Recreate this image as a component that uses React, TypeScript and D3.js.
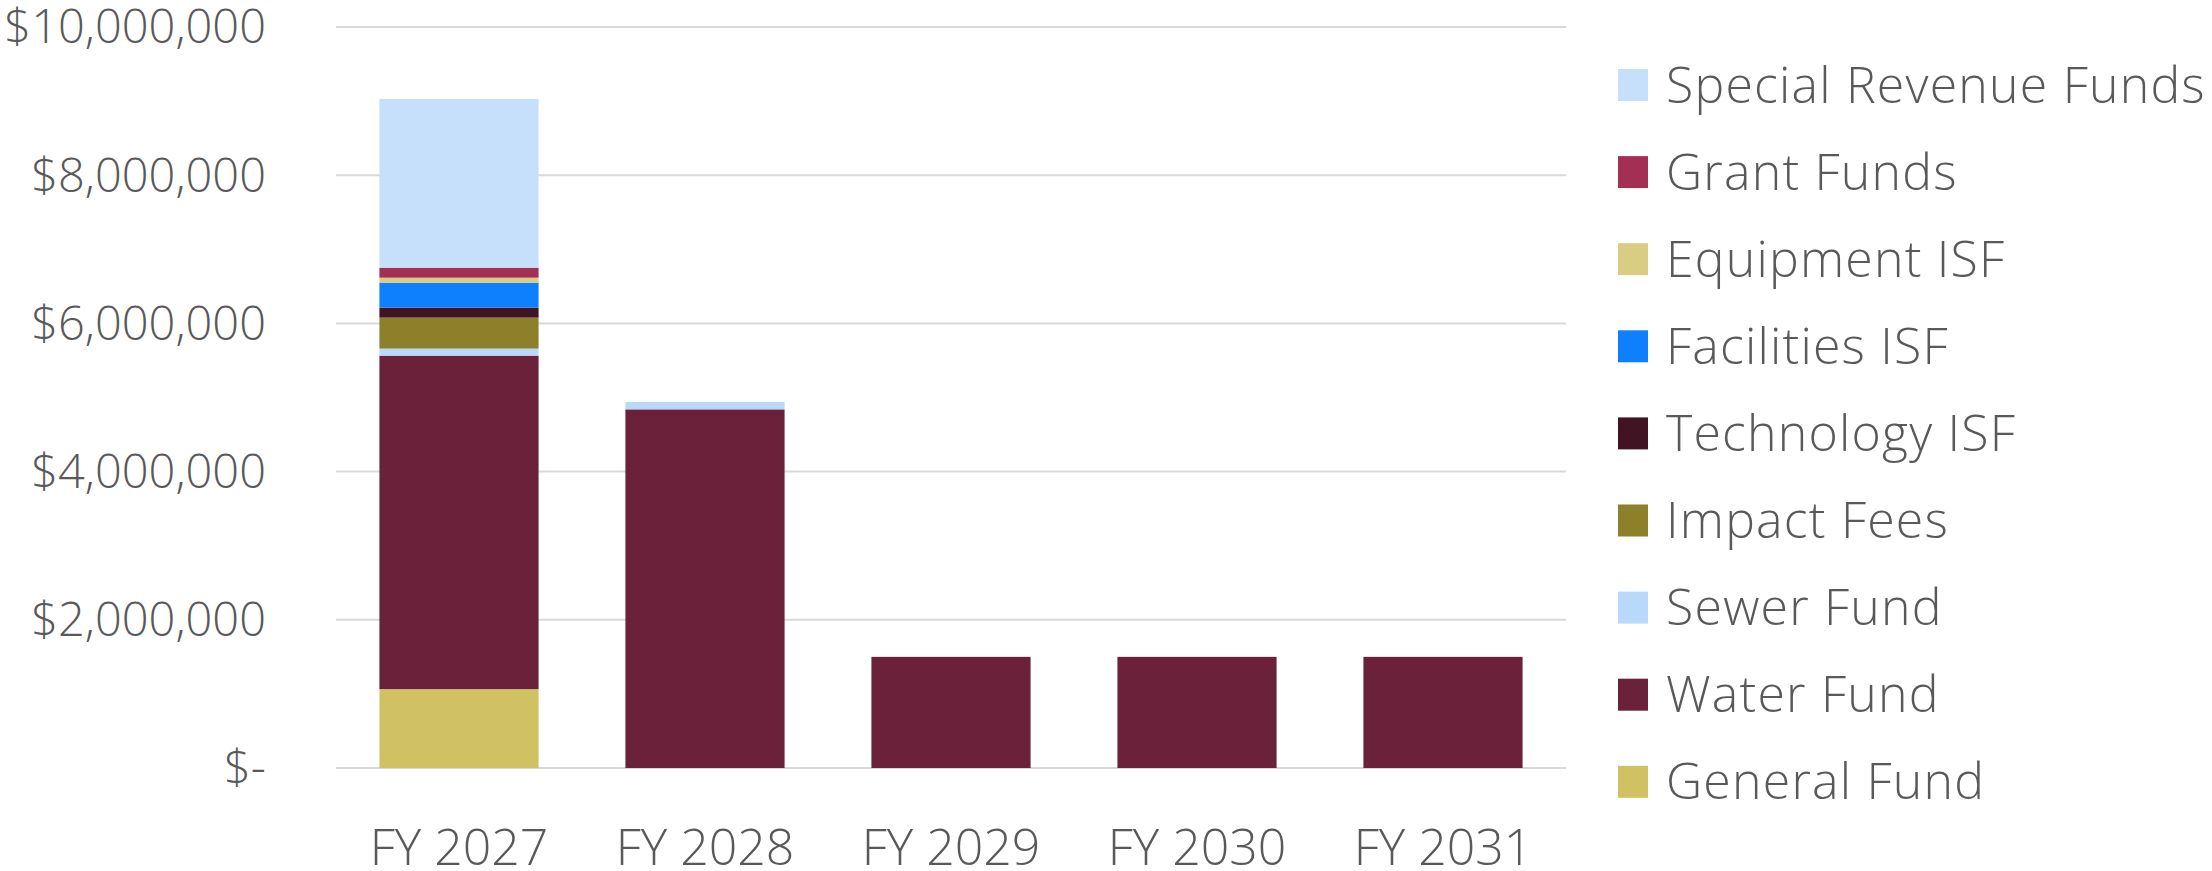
import React from 'react';
import * as d3 from 'd3';

const years = ['FY 2027', 'FY 2028', 'FY 2029', 'FY 2030', 'FY 2031'];

// stacked bottom -> top
const funds = [
  'General Fund',
  'Water Fund',
  'Sewer Fund',
  'Impact Fees',
  'Technology ISF',
  'Facilities ISF',
  'Equipment ISF',
  'Grant Funds',
  'Special Revenue Funds'
];

const generalFund = [1065000, 0, 0, 0, 0];
const waterFund = [4500000, 4840000, 1500000, 1500000, 1500000];
const sewerFund = [95000, 100000, 0, 0, 0];
const impactFees = [418000, 0, 0, 0, 0];
const technologyISF = [135000, 0, 0, 0, 0];
const facilitiesISF = [337000, 0, 0, 0, 0];
const equipmentISF = [67000, 0, 0, 0, 0];
const grantFunds = [135000, 0, 0, 0, 0];
const specialRevenue = [2278000, 0, 0, 0, 0];

const seriesValues = [
  generalFund,
  waterFund,
  sewerFund,
  impactFees,
  technologyISF,
  facilitiesISF,
  equipmentISF,
  grantFunds,
  specialRevenue
];

const colors = [
  '#d0c163',
  '#6a2139',
  '#b8d9fc',
  '#8c802a',
  '#421423',
  '#0e80fe',
  '#d9cd84',
  '#a33054',
  '#c6e0fb'
];

const yTicks = [0, 2000000, 4000000, 6000000, 8000000, 10000000];

const FONT = '"Open Sans", sans-serif';
const TEXT = '#595959';

const App = () => {
  const width = 2212;
  const height = 871;
  const margin = { top: 27, left: 336, right: 646, bottom: 103 };
  const plotW = width - margin.left - margin.right;
  const plotH = height - margin.top - margin.bottom;

  const rows = years.map((year, i) => {
    const row: any = { year };
    funds.forEach((f, j) => (row[f] = seriesValues[j][i]));
    return row;
  });
  const stacked = d3.stack().keys(funds)(rows);

  const x = d3.scaleBand().domain(years).range([0, plotW]).paddingInner(0.353).paddingOuter(0.1765);
  const y = d3.scaleLinear().domain([0, 10000000]).range([plotH, 0]);

  const fmt = (v: number) => (v === 0 ? '$-' : '$' + d3.format(',')(v));

  const legendItems = funds.slice().reverse();

  return (
    <svg
      width={width}
      height={height}
      style={{ position: 'absolute', left: 0, top: 0, background: '#fff' }}
      fontFamily={FONT}
    >
      <g transform={`translate(${margin.left},${margin.top})`}>
        {yTicks.map(t => (
          <g key={t}>
            <line x1={0} x2={plotW} y1={y(t)} y2={y(t)} stroke="#d9d9d9" strokeWidth={2} />
            <text
              x={-70}
              y={y(t)}
              dy="0.35em"
              textAnchor="end"
              fontSize={47}
              fontWeight={300}
              fill={TEXT}
            >
              {fmt(t)}
            </text>
          </g>
        ))}
        {stacked.map((s, j) => (
          <g key={s.key} fill={colors[j]}>
            {s.map((d, i) =>
              d[1] - d[0] > 0 ? (
                <rect
                  key={i}
                  x={x(years[i])}
                  y={y(d[1])}
                  width={x.bandwidth()}
                  height={y(d[0]) - y(d[1])}
                />
              ) : null
            )}
          </g>
        ))}
        {years.map(yr => (
          <text
            key={yr}
            x={(x(yr) || 0) + x.bandwidth() / 2}
            y={plotH + 79}
            dy="0.35em"
            textAnchor="middle"
            fontSize={50}
            fontWeight={300}
            fill={TEXT}
          >
            {yr}
          </text>
        ))}
      </g>
      <g transform="translate(1618,85)">
        {legendItems.map((f, i) => (
          <g key={f} transform={`translate(0,${i * 87.1})`}>
            <rect x={0} y={-16} width={30} height={32} fill={colors[funds.indexOf(f)]} />
            <text
              x={48}
              y={0}
              dy="0.35em"
              fontSize={50}
              fontWeight={300}
              letterSpacing={1.2}
              fill={TEXT}
            >
              {f}
            </text>
          </g>
        ))}
      </g>
    </svg>
  );
};

export default App;
